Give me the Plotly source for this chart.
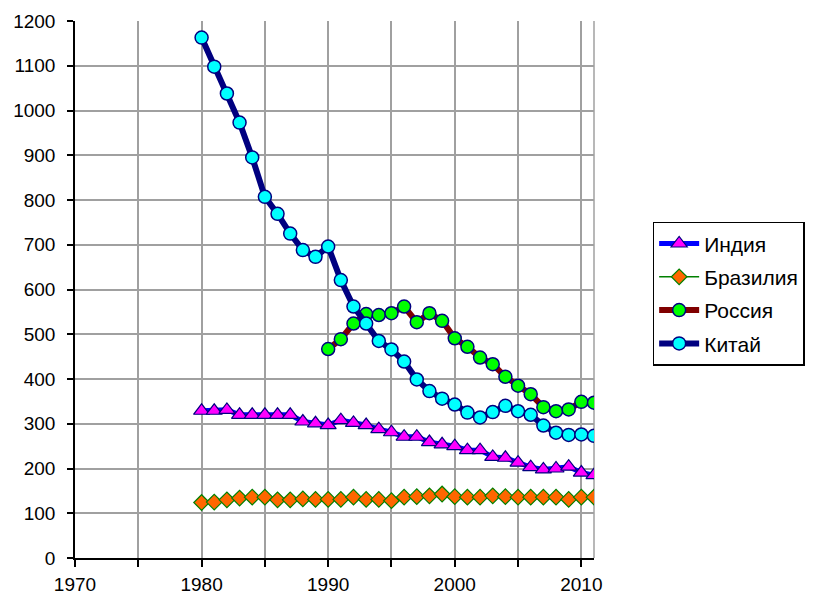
import plotly.graph_objects as go

years_india = list(range(1980, 2012))
india = [329, 329, 331, 320, 320, 320, 320, 320, 305, 301, 297, 308, 302, 297, 288, 281,
         271, 271, 259, 254, 250, 241, 241, 226, 224, 213, 203, 198, 200, 204, 191, 185]

years_brazil = list(range(1980, 2012))
brazil = [124, 125, 130, 134, 136, 136, 130, 130, 132, 131, 131, 131, 136, 131, 131, 128,
          136, 137, 139, 143, 137, 136, 136, 139, 137, 136, 136, 136, 136, 131, 136, 136]

years_russia = list(range(1990, 2012))
russia = [467, 489, 524, 545, 543, 547, 562, 527, 547, 530, 491, 472, 448, 433, 405, 385,
          366, 337, 328, 332, 349, 347]

years_china = list(range(1980, 2012))
china = [1163, 1098, 1038, 973, 895, 807, 769, 725, 688, 673, 696, 621, 562, 524, 485, 466,
         439, 399, 373, 356, 343, 325, 314, 326, 340, 328, 320, 296, 280, 275, 276, 273]

x_tickvals = [1970, 1975, 1980, 1985, 1990, 1995, 2000, 2005, 2010]
x_ticktext = ["1970", "", "1980", "", "1990", "", "2000", "", "2010"]

names = ["Индия", "Бразилия", "Россия", "Китай"]

fig = go.Figure()
fig.add_trace(go.Scatter(
    x=years_india, y=india, name=names[0], mode="lines+markers", legendgroup="a",
    line=dict(color="#0000FF", width=5),
    marker=dict(symbol="triangle-up", size=14, color="#FF00FF", line=dict(color="#000080", width=1.2))))
fig.add_trace(go.Scatter(
    x=years_brazil, y=brazil, name=names[1], mode="lines+markers", legendgroup="b",
    line=dict(color="#008000", width=1.5),
    marker=dict(symbol="diamond", size=12, color="#FF6600", line=dict(color="#008000", width=1.2))))
fig.add_trace(go.Scatter(
    x=years_russia, y=russia, name=names[2], mode="lines+markers", legendgroup="c",
    line=dict(color="#800000", width=6),
    marker=dict(symbol="circle", size=13, color="#00FF00", line=dict(color="#000080", width=1.5))))
fig.add_trace(go.Scatter(
    x=years_china, y=china, name=names[3], mode="lines+markers", legendgroup="d",
    line=dict(color="#000080", width=6),
    marker=dict(symbol="circle", size=13, color="#00FFFF", line=dict(color="#000080", width=1.5))))

fig.update_layout(
    width=805, height=587,
    margin=dict(l=67, r=219, t=13, b=37, autoexpand=False),
    paper_bgcolor="white", plot_bgcolor="white",
    font=dict(family="Liberation Sans, Arial, sans-serif", size=19, color="black"),
    legend=dict(x=1.113, y=0.626, xanchor="left", yanchor="top",
                bordercolor="black", borderwidth=1.5, bgcolor="white",
                font=dict(size=21), tracegroupgap=3, itemwidth=40),
    shapes=[dict(type="line", xref="paper", yref="paper", x0=1, x1=1, y0=0, y1=1,
                 line=dict(color="#a0a0a0", width=1.5), layer="below")],
)
fig.update_xaxes(range=[1970, 2011], tickvals=x_tickvals, ticktext=x_ticktext,
                 showgrid=True, gridcolor="#a0a0a0", gridwidth=1.5, automargin=False,
                 showline=True, linecolor="black", linewidth=1.5,
                 ticks="outside", ticklen=7, tickcolor="black", tickwidth=1.5,
                 zeroline=False, tickfont=dict(size=19), ticklabelstandoff=1)
fig.update_yaxes(range=[0, 1200], dtick=100, automargin=False,
                 showgrid=True, gridcolor="#a0a0a0", gridwidth=1.5,
                 showline=True, linecolor="black", linewidth=1.5,
                 ticks="outside", ticklen=6, tickcolor="black", tickwidth=1.5,
                 zeroline=False, tickfont=dict(size=19), ticklabelstandoff=8)

fig.write_html("out.html")
